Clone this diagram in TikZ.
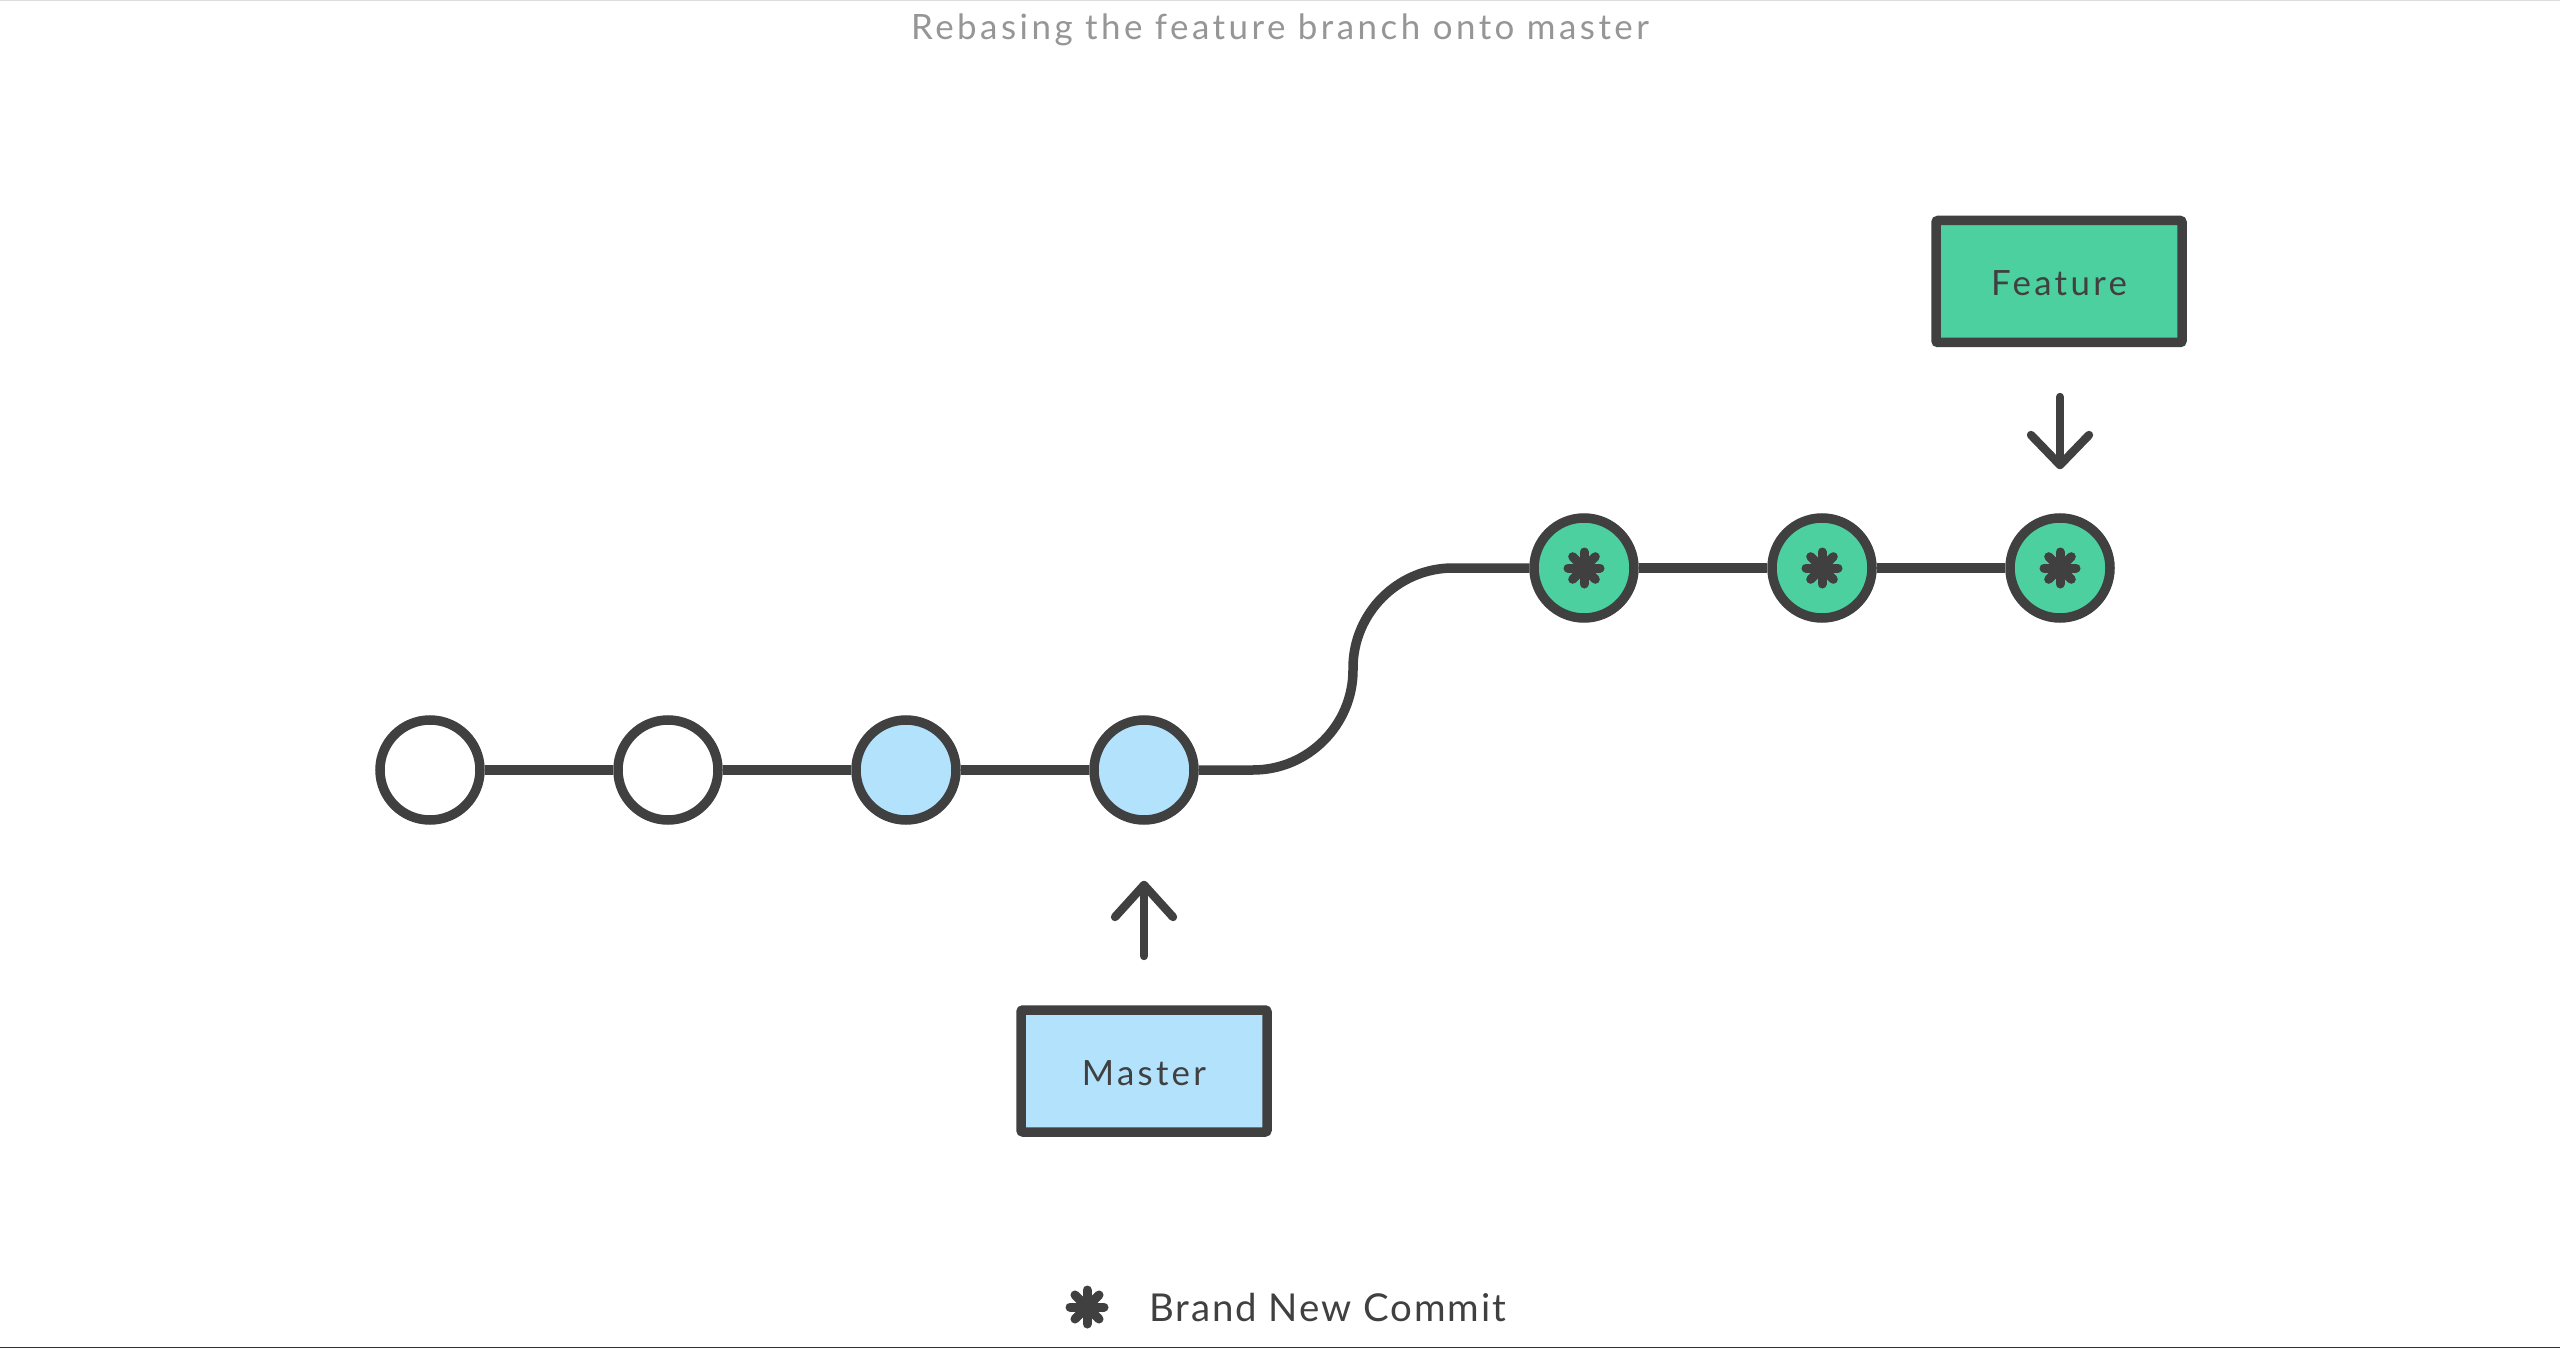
\documentclass[tikz,border=0pt]{standalone}
\usepackage{fontspec}
\setmainfont{Lato}
\newfontfamily\titlefont[LetterSpace=10]{Lato}
\newfontfamily\boxfont[LetterSpace=9.5]{Lato}
\newfontfamily\legendfont[LetterSpace=5]{Lato}
\usetikzlibrary{calc}
\definecolor{dgray}{HTML}{404040}
\definecolor{lblue}{HTML}{B3E2FC}
\definecolor{fgreen}{HTML}{4DD09F}
\definecolor{tgray}{HTML}{969696}
\definecolor{topline}{HTML}{DDDDDD}
\definecolor{botline}{HTML}{2E2E3E}
\newcommand\boxlabel[1]{\raisebox{-1pt}[\height][\depth]{#1}}
\begin{document}
\begin{tikzpicture}[x=0.5pt,y=-0.5pt,
  edge/.style={draw=dgray,line width=4.75pt},
  commit/.style={circle,draw=dgray,line width=4.75pt,minimum size=50pt,inner sep=0pt},
  branchbox/.style={rectangle,draw=dgray,line width=4.75pt,minimum width=123pt,minimum height=61pt,
    inner sep=0pt,rounded corners=1pt,text=dgray,font=\boxfont\fontsize{17.4pt}{20pt}\selectfont},
  pointer/.style={draw=dgray,line width=4.2pt,line cap=round,line join=round},
  petal/.style={draw=dgray,line width=4.5pt,line cap=round}]
\path[use as bounding box,fill=white] (0,0) rectangle (2560,1348);
\fill[topline] (0,0) rectangle (2560,1.5);
\fill[botline] (0,1346.5) rectangle (2560,1348);

% title
\node[anchor=base,inner sep=0pt,text=tgray,font=\titlefont\fontsize{17.45pt}{21pt}\selectfont] (title) at (1280,40) {Rebasing the feature branch onto master};

% commits
\node[commit,fill=white] (w1) at (430,770) {};
\node[commit,fill=white] (w2) at (668,770) {};
\node[commit,fill=lblue] (b1) at (906,770) {};
\node[commit,fill=lblue] (b2) at (1144,770) {};
\node[commit,fill=fgreen] (g1) at (1584,568) {};
\node[commit,fill=fgreen] (g2) at (1822,568) {};
\node[commit,fill=fgreen] (g3) at (2060,568) {};

% edges
\draw[edge] (w1) -- (w2);
\draw[edge] (w2) -- (b1);
\draw[edge] (b1) -- (b2);
\coordinate (c1) at (1253,770);
\coordinate (c2) at (1353,670);
\coordinate (c3) at (1353,668);
\coordinate (c4) at (1453,568);
\draw[edge] (b2.east) -- (c1) .. controls (1308,770) and (1353,725) .. (c2) -- (c3)
  .. controls (1353,613) and (1398,568) .. (c4) -- (g1.west);
\draw[edge] (g1) -- (g2);
\draw[edge] (g2) -- (g3);

% stars
\foreach \n in {g1,g2,g3}{
  \begin{scope}[shift={(\n.center)}]
    \foreach \a in {0,45,90,135}{\draw[petal] (\a:16) -- (\a+180:16);}
    \fill[dgray] (0,0) circle (9);
  \end{scope}
}

% branch boxes
\node[branchbox,fill=lblue] (master) at (1144,1071) {\boxlabel{Master}};
\node[branchbox,fill=fgreen] (feature) at (2059,281.5) {\boxlabel{Feature}};

% pointers
\coordinate (mt) at (1144,956);
\coordinate (mh) at (1144,885);
\draw[pointer] (mt) -- (mh);
\draw[pointer] (1115,917) -- (mh) -- (1173,917);
\coordinate (ft) at (2060,397);
\coordinate (fh) at (2060,465);
\draw[pointer] (ft) -- (fh);
\draw[pointer] (2031,435) -- (fh) -- (2089,435);

% legend
\coordinate (ls) at (1087,1307);
\begin{scope}[shift={(ls)}]
  \foreach \a in {0,45,90,135}{\draw[petal] (\a:17) -- (\a+180:17);}
  \fill[dgray] (0,0) circle (10);
\end{scope}
\node[anchor=base west,inner sep=0pt,text=dgray,font=\legendfont\fontsize{19.2pt}{22pt}\selectfont] (legend) at (1149,1321) {Brand New Commit};
\end{tikzpicture}
\end{document}
